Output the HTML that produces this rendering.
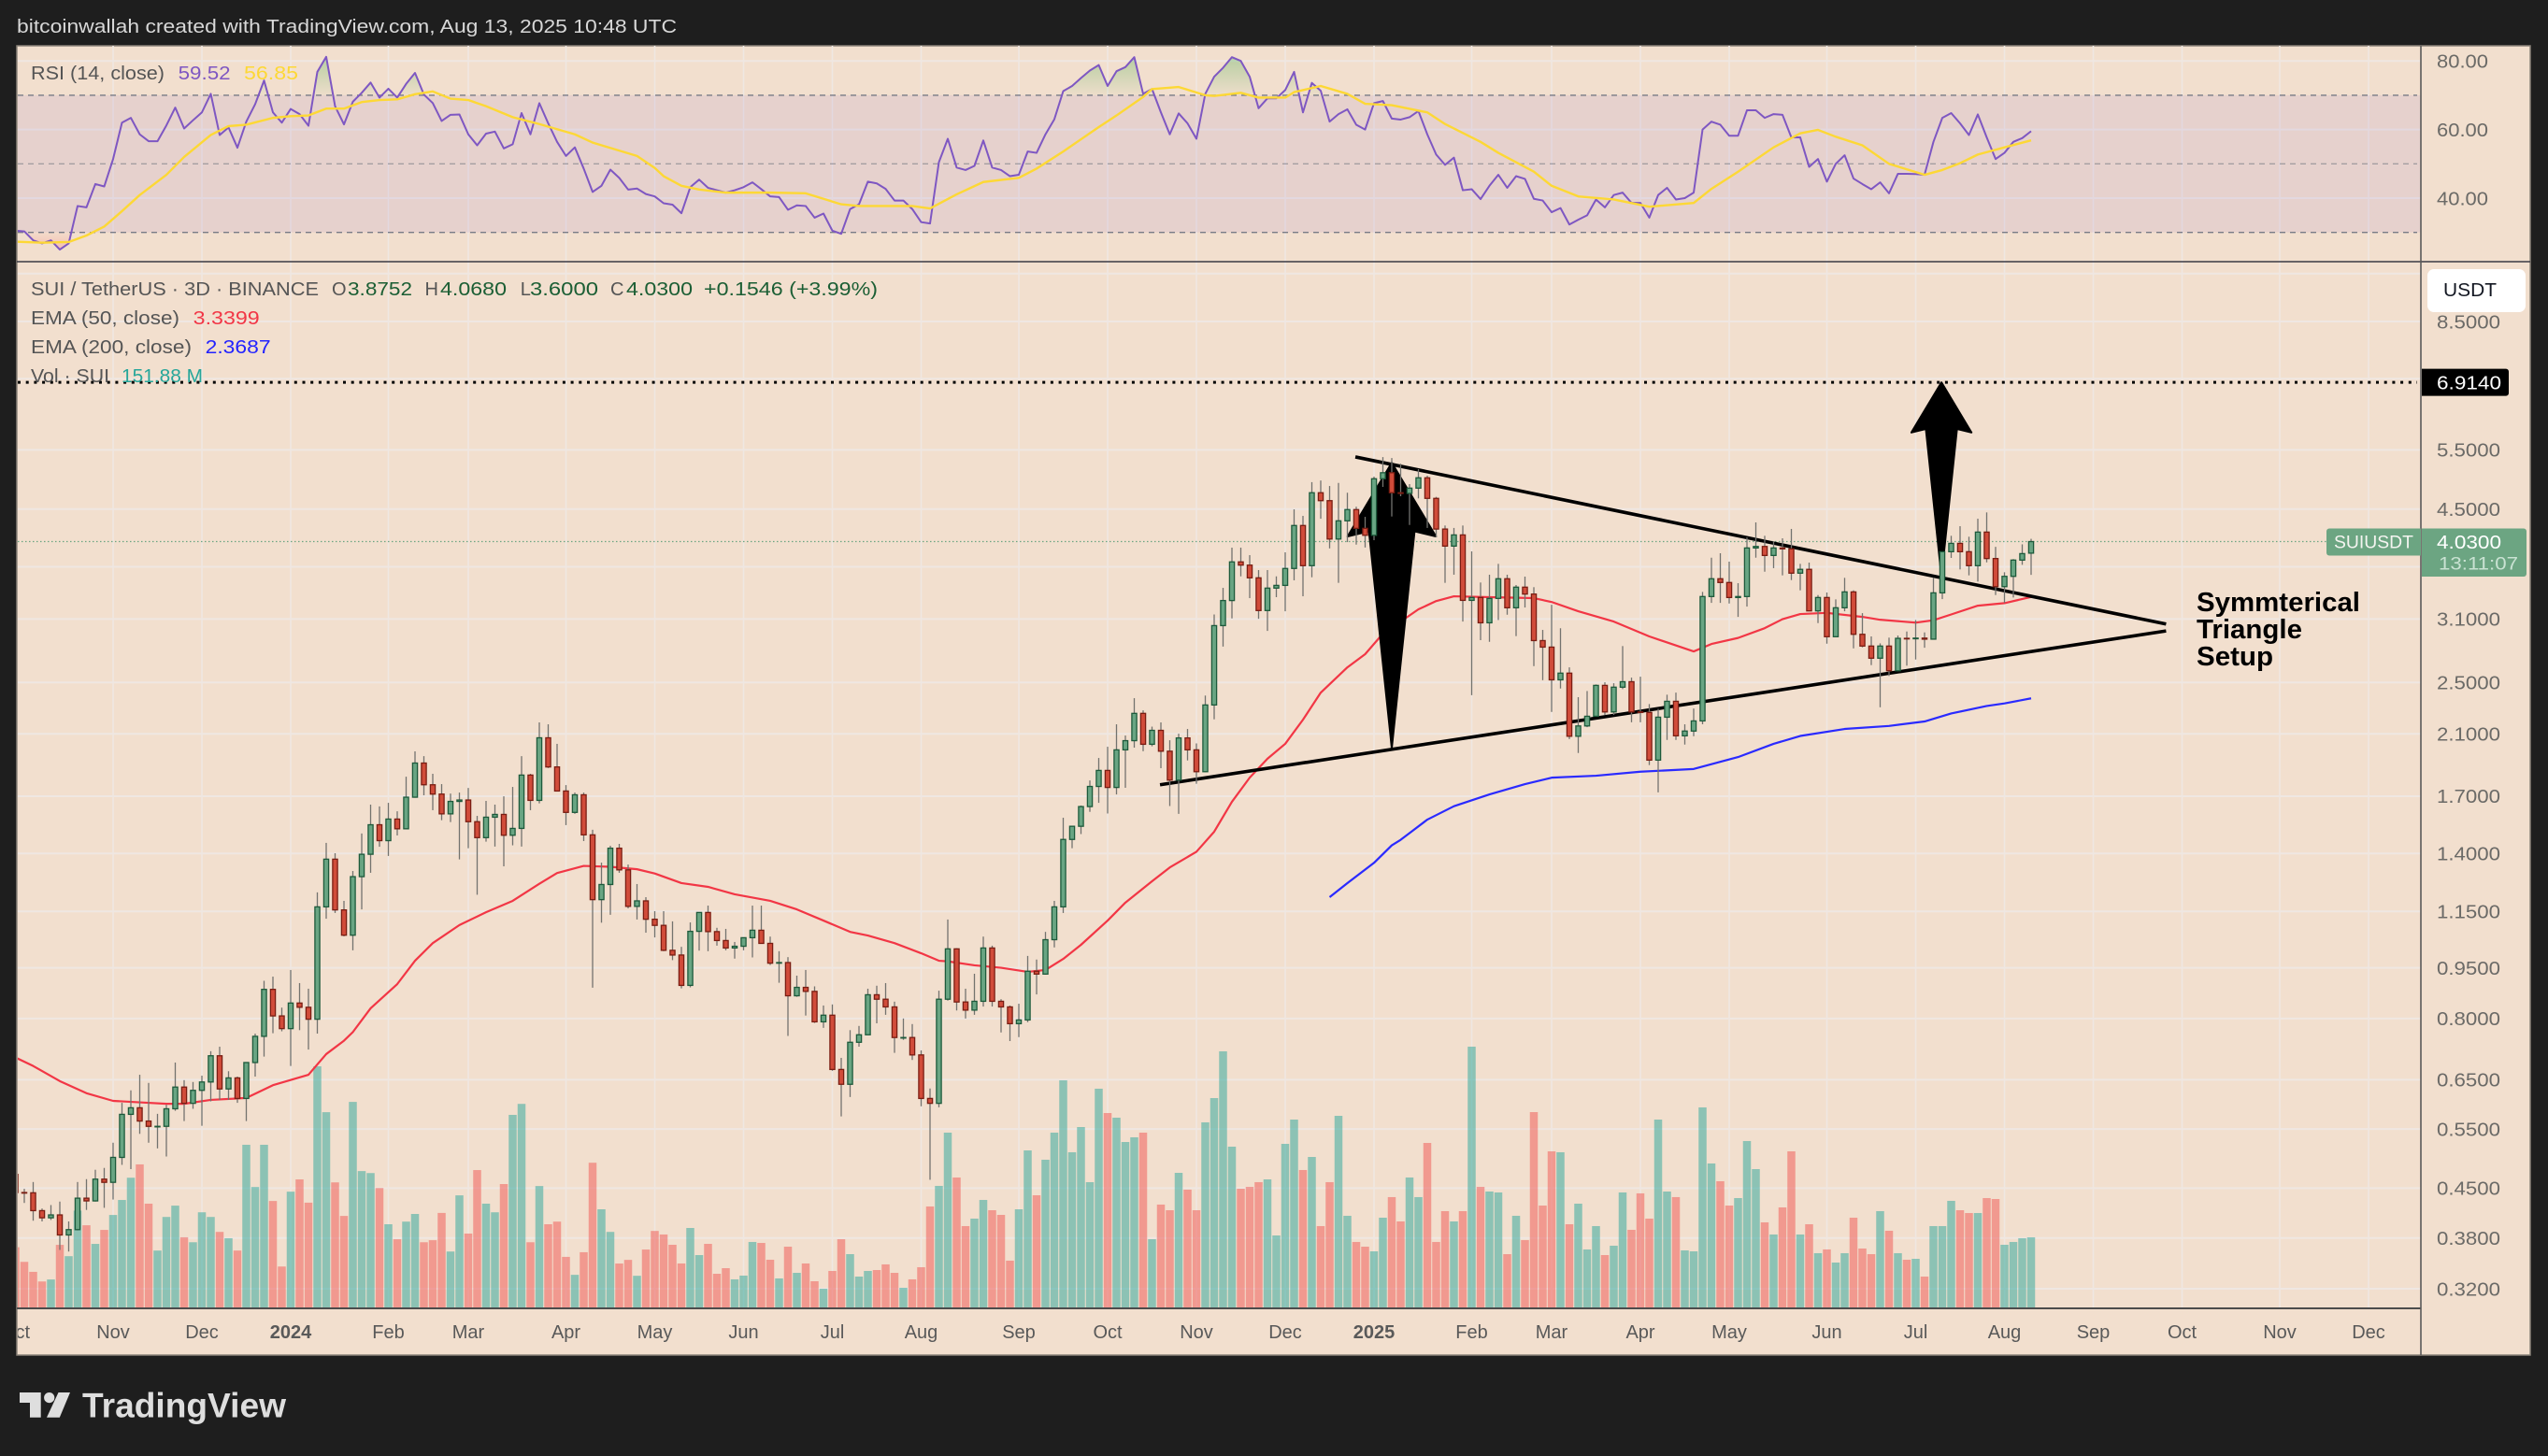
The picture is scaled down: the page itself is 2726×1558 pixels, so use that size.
<!DOCTYPE html>
<html lang="en">
<head>
<meta charset="utf-8">
<title>SUI / TetherUS 3D chart</title>
<style>
html,body{margin:0;padding:0;background:#1e1e1e;width:2726px;height:1558px;overflow:hidden}
svg{display:block}
text{font-family:"Liberation Sans",sans-serif}
</style>
</head>
<body>
<svg id="chart" xmlns="http://www.w3.org/2000/svg" width="2726" height="1558" viewBox="0 0 2726 1558">
  <defs>
    <clipPath id="plot-clip"><rect x="19" y="49" width="2571" height="1351"/></clipPath>
    <clipPath id="axis-clip"><rect x="19" y="1400" width="2571" height="50"/></clipPath>
    <clipPath id="ob-clip"><rect x="19" y="49" width="2571" height="52.9"/></clipPath>
    <clipPath id="os-clip"><rect x="19" y="248.7" width="2571" height="31"/></clipPath>
    <linearGradient id="ob-grad" gradientUnits="userSpaceOnUse" x1="0" y1="58" x2="0" y2="102">
      <stop offset="0" stop-color="#4caf50" stop-opacity=".38"/><stop offset="1" stop-color="#4caf50" stop-opacity=".03"/>
    </linearGradient>
    <linearGradient id="os-grad" gradientUnits="userSpaceOnUse" x1="0" y1="249" x2="0" y2="272">
      <stop offset="0" stop-color="#ff5252" stop-opacity=".03"/><stop offset="1" stop-color="#ff5252" stop-opacity=".3"/>
    </linearGradient>
  </defs>
  <rect x="0" y="0" width="2726" height="1558" fill="#1e1e1e"/>
  <text x="18" y="35" font-size="20" fill="#d8d8d8" textLength="706" lengthAdjust="spacingAndGlyphs">bitcoinwallah created with TradingView.com, Aug 13, 2025 10:48 UTC</text>
  <rect x="18" y="49" width="2689" height="1401" fill="#f2dfce" stroke="#8a8278" stroke-width="1.5"/>
  <g id="grid-layer" clip-path="url(#plot-clip)"></g>
  <rect x="19" y="101.9" width="2571" height="146.8" fill="#7e57c2" fill-opacity=".1"/>
  <g id="rsi-layer" clip-path="url(#plot-clip)"></g>
  <g id="volume-layer" clip-path="url(#plot-clip)"></g>
  <g id="ema-layer" clip-path="url(#plot-clip)"></g>
  <g id="drawing-layer" clip-path="url(#plot-clip)"></g>
  <g id="candle-layer" clip-path="url(#plot-clip)"></g>

  <line x1="18" y1="280" x2="2707" y2="280" stroke="#3a3a44" stroke-width="1.6"/>
  <line x1="18" y1="1400" x2="2590" y2="1400" stroke="#4c4c4c" stroke-width="2"/>
  <line x1="2590" y1="49" x2="2590" y2="1450" stroke="#5a5a5a" stroke-width="1.6"/>

  <g id="price-axis-layer"></g>
  <g id="time-axis-layer" clip-path="url(#axis-clip)"></g>

  <g font-size="20">
    <text x="33" y="85" fill="#555" textLength="143" lengthAdjust="spacingAndGlyphs">RSI (14, close)</text>
    <text x="190.6" y="85" fill="#7e57c2" textLength="56" lengthAdjust="spacingAndGlyphs">59.52</text>
    <text x="261" y="85" fill="#fdd835" textLength="58" lengthAdjust="spacingAndGlyphs">56.85</text>
  </g>
  <g font-size="20">
    <text x="33" y="316" fill="#555" textLength="308" lengthAdjust="spacingAndGlyphs">SUI / TetherUS · 3D · BINANCE</text>
    <text x="355" y="316" fill="#555">O</text>
    <text x="372" y="316" fill="#1b5e34" textLength="69" lengthAdjust="spacingAndGlyphs">3.8752</text>
    <text x="454.5" y="316" fill="#555">H</text>
    <text x="471" y="316" fill="#1b5e34" textLength="71" lengthAdjust="spacingAndGlyphs">4.0680</text>
    <text x="556.7" y="316" fill="#555">L</text>
    <text x="567" y="316" fill="#1b5e34" textLength="73" lengthAdjust="spacingAndGlyphs">3.6000</text>
    <text x="653" y="316" fill="#555">C</text>
    <text x="670" y="316" fill="#1b5e34" textLength="71" lengthAdjust="spacingAndGlyphs">4.0300</text>
    <text x="753" y="316" fill="#1b5e34" textLength="186" lengthAdjust="spacingAndGlyphs">+0.1546 (+3.99%)</text>
    <text x="33" y="347" fill="#555" textLength="159" lengthAdjust="spacingAndGlyphs">EMA (50, close)</text>
    <text x="206.7" y="347" fill="#f23645" textLength="71" lengthAdjust="spacingAndGlyphs">3.3399</text>
    <text x="33" y="378" fill="#555" textLength="172" lengthAdjust="spacingAndGlyphs">EMA (200, close)</text>
    <text x="219.6" y="378" fill="#2323ff" textLength="70" lengthAdjust="spacingAndGlyphs">2.3687</text>
    <text x="33" y="409" fill="#555" textLength="84" lengthAdjust="spacingAndGlyphs">Vol · SUI</text>
    <text x="130" y="409" fill="#26a69a" textLength="87" lengthAdjust="spacingAndGlyphs">151.88 M</text>
  </g>

  <g font-size="29" font-weight="700" fill="#000">
    <text x="2350" y="654" textLength="175" lengthAdjust="spacingAndGlyphs">Symmterical</text>
    <text x="2350" y="683" textLength="113" lengthAdjust="spacingAndGlyphs">Triangle</text>
    <text x="2350" y="712" textLength="82" lengthAdjust="spacingAndGlyphs">Setup</text>
  </g>

  <g id="tag-layer"></g>

  <g>
    <rect x="2597" y="288" width="105" height="46" rx="7" fill="#ffffff"/>
    <text x="2614" y="317" font-size="20" fill="#131722" textLength="57" lengthAdjust="spacingAndGlyphs">USDT</text>
  </g>

  <g fill="#dedede">
    <path d="M21 1490H43.7V1516.7H32V1501H21Z"/>
    <circle cx="52.7" cy="1495.6" r="5.6"/>
    <path d="M62.5 1490H75L63.8 1516.7H50Z"/>
    <text x="88" y="1516.5" font-size="37" font-weight="700" textLength="218" lengthAdjust="spacingAndGlyphs">TradingView</text>
  </g>
</svg>
<script>
// ---------- Chart data ----------
const lastPrice = 4.03;
const targetPrice = 6.914;

const opens = [
.4715,.4434,.443,.417,.407,.411,.384,.391,.435,.431,
.464,.459,.4995,.578,.591,.565,.555,.555,.589,.634,
.600,.627,.645,.705,.630,.654,.610,.689,.753,.883,
.807,.773,.843,.831,.798,1.168,1.373,1.156,1.061,1.294,
1.396,1.543,1.462,1.573,1.522,1.694,1.902,1.767,1.712,1.601,
1.670,1.678,1.559,1.477,1.583,1.598,1.489,1.524,1.826,1.676,
2.072,1.877,1.730,1.609,1.708,1.491,1.197,1.260,1.425,1.324,
1.170,1.192,1.120,1.097,1.008,.992,.895,1.075,1.146,1.074,
1.042,1.016,1.022,1.052,1.079,1.032,.965,.967,.864,.889,
.877,.791,.809,.673,.640,.738,.757,.867,.854,.832,
.750,.750,.707,.610,.600,.854,1.013,.846,.823,.848,
1.016,.848,.832,.786,.796,.939,.930,1.045,1.168,1.468,
1.535,1.641,1.757,1.855,1.751,1.989,2.052,2.251,2.027,2.125,
1.980,1.795,2.071,1.989,1.847,2.316,3.031,3.300,3.762,3.721,
3.564,3.190,3.442,3.474,3.679,4.256,3.714,4.756,4.630,4.065,
4.324,4.492,4.215,4.117,4.987,5.090,4.756,4.745,4.831,5.003,
4.666,4.205,3.969,4.122,3.302,3.334,3.060,3.324,3.553,3.220,
3.453,3.373,2.881,2.818,2.522,2.580,2.083,2.157,2.229,2.475,
2.262,2.460,2.506,2.262,2.258,1.921,2.222,2.345,2.086,2.120,
2.194,3.345,3.553,3.508,3.334,3.345,3.944,3.964,3.845,3.944,
3.932,3.621,3.668,3.186,3.334,2.919,3.220,3.398,2.943,2.828,
2.714,2.828,2.601,2.903,2.899,2.905,2.895,3.387,3.894,4.006,
3.894,3.714,4.162,3.805,3.459,3.582,3.785,3.8752];

const closes = [
.4434,.443,.417,.407,.411,.384,.391,.435,.431,.464,
.459,.4995,.578,.591,.565,.555,.555,.589,.634,.600,
.627,.645,.705,.630,.654,.610,.689,.753,.883,.807,
.773,.843,.831,.798,1.168,1.373,1.156,1.061,1.294,1.396,
1.543,1.462,1.573,1.522,1.694,1.902,1.767,1.712,1.601,1.670,
1.678,1.559,1.477,1.583,1.598,1.489,1.524,1.826,1.676,2.072,
1.877,1.730,1.609,1.708,1.491,1.197,1.260,1.425,1.324,1.170,
1.192,1.120,1.097,1.008,.992,.895,1.075,1.146,1.074,1.042,
1.016,1.022,1.052,1.079,1.032,.965,.967,.864,.889,.877,
.791,.809,.673,.640,.738,.757,.867,.854,.832,.750,
.750,.707,.610,.600,.854,1.013,.846,.823,.848,1.016,
.848,.832,.786,.796,.939,.930,1.045,1.168,1.468,1.535,
1.641,1.757,1.855,1.751,1.989,2.052,2.251,2.027,2.125,1.980,
1.795,2.071,1.989,1.847,2.316,3.031,3.300,3.762,3.721,3.564,
3.190,3.442,3.474,3.679,4.256,3.714,4.756,4.630,4.065,4.324,
4.492,4.215,4.117,4.987,5.090,4.756,4.745,4.831,5.003,4.666,
4.205,3.969,4.122,3.302,3.334,3.060,3.324,3.553,3.220,3.453,
3.373,2.881,2.818,2.522,2.580,2.083,2.157,2.229,2.475,2.262,
2.460,2.506,2.262,2.258,1.921,2.222,2.345,2.086,2.120,2.194,
3.345,3.553,3.508,3.334,3.345,3.944,3.964,3.845,3.944,3.932,
3.621,3.668,3.186,3.334,2.919,3.220,3.398,2.943,2.828,2.714,
2.828,2.601,2.903,2.899,2.905,2.895,3.387,3.894,4.006,3.894,
3.714,4.162,3.805,3.459,3.582,3.785,3.869,4.03];

const highs = [
.475,.449,.4595,.420,.425,.430,.402,.4595,.464,.479,
.482,.525,.601,.627,.661,.643,.579,.597,.689,.649,
.645,.659,.716,.727,.669,.657,.689,.760,.909,.922,
.830,.943,.902,.885,1.227,1.451,1.401,1.192,1.319,1.498,
1.652,1.642,1.662,1.615,1.816,1.979,1.947,1.834,1.771,1.715,
1.721,1.748,1.590,1.673,1.652,1.699,1.754,1.947,1.834,2.183,
2.169,2.030,1.765,1.721,1.721,1.517,1.357,1.437,1.446,1.348,
1.262,1.207,1.151,1.151,1.112,1.020,1.108,1.147,1.173,1.088,
1.084,1.037,1.053,1.173,1.173,1.056,1.005,.985,.925,.943,
.892,.836,.839,.700,.769,.780,.885,.894,.902,.847,
.800,.785,.718,.631,.879,1.119,1.015,.885,.931,1.056,
1.024,.854,.836,.841,.989,.977,1.073,1.192,1.580,1.537,
1.647,1.793,1.935,2.010,2.169,2.088,2.370,2.274,2.152,2.183,
2.055,2.101,2.135,2.033,2.391,3.148,3.445,3.948,3.948,3.849,
3.659,3.659,3.582,3.886,4.496,4.397,4.930,4.957,4.866,4.917,
4.756,4.536,4.383,5.023,5.367,5.35,5.248,4.897,5.153,5.039,
4.690,4.256,4.221,4.256,3.898,3.508,3.602,3.737,3.602,3.478,
3.579,3.453,2.987,3.253,3.004,2.631,2.378,2.428,2.483,2.501,
2.493,2.828,2.541,2.549,2.323,2.286,2.398,2.415,2.169,2.288,
3.398,3.816,3.874,3.765,3.500,4.088,4.301,4.110,4.036,4.075,
4.207,3.737,3.753,3.362,3.391,3.313,3.564,3.416,3.162,2.922,
2.854,2.910,2.931,2.971,3.089,2.962,3.564,3.898,4.110,4.246,
4.097,4.355,4.449,3.959,3.632,3.798,3.993,4.068];

const lows = [
.4434,.428,.403,.402,.404,.365,.363,.390,.418,.430,
.421,.433,.487,.480,.541,.525,.515,.501,.585,.565,
.589,.556,.604,.607,.607,.601,.565,.657,.703,.761,
.766,.681,.769,.720,.760,1.122,1.144,1.057,1.008,1.158,
1.311,1.432,1.388,1.488,1.521,1.691,1.705,1.621,1.567,1.557,
1.372,1.425,1.217,1.457,1.433,1.340,1.439,1.433,1.621,1.659,
1.870,1.730,1.541,1.601,1.460,.888,1.107,1.137,1.311,1.162,
1.119,1.070,1.053,1.005,.975,.886,.889,1.007,1.005,1.024,
1.008,.980,1.008,.984,1.031,.959,.903,.754,.861,.808,
.788,.775,.670,.574,.613,.727,.757,.787,.810,.712,
.744,.695,.594,.463,.592,.850,.822,.800,.810,.833,
.833,.763,.741,.751,.790,.868,.928,1.018,1.144,1.425,
1.495,1.612,1.662,1.603,1.710,1.749,2.004,1.980,2.013,1.869,
1.644,1.601,1.919,1.773,1.844,2.206,2.823,3.106,3.582,3.327,
3.102,2.977,3.338,3.182,3.534,3.348,3.571,4.355,3.938,3.504,
4.023,3.989,3.950,4.049,4.851,4.388,4.700,4.264,4.666,4.221,
4.088,3.504,3.602,3.073,2.394,2.885,2.869,3.089,3.145,2.925,
3.223,2.642,2.519,2.262,2.449,2.063,1.968,2.148,2.227,2.239,
2.239,2.444,2.184,2.184,1.889,1.722,2.057,2.057,2.025,2.083,
2.169,3.274,3.274,3.267,3.122,3.233,3.816,3.639,3.683,3.594,
3.537,3.416,3.182,3.057,2.851,2.915,3.182,2.806,2.816,2.651,
2.298,2.555,2.596,2.646,2.702,2.812,2.89,3.316,3.813,3.667,
3.594,3.519,3.756,3.362,3.274,3.334,3.725,3.6];

const volumes = [
130.4,98.7,77.1,56.2,60.5,135.5,111,209.7,178,137.6,
167.9,200.3,232.8,281,309.9,224.8,123.2,196,220.5,152,
141.2,206.1,196,163.6,149.9,123.2,352.4,260.9,352.4,230.6,
88.6,250.8,277.4,227,522.4,423,270.9,198.2,445.3,295.4,
291.1,258.7,180.2,147.7,185.9,202.5,141.2,145.6,204.7,121.1,
242.8,160,297.6,224.8,206.1,267.3,417.2,441,141.2,263,
180.2,185.9,109.5,70.6,119.6,313.5,212.6,163.6,95.1,103,
68.5,125.4,165.7,158,135.7,95.2,172.1,113.4,137.7,72.9,
85,60.8,68.9,141.8,139.7,103.3,62.8,131.6,74.9,95.2,
56.7,40.5,79,147.8,115.4,66.8,79,81,93.2,74.9,
42.5,60.8,87.1,218.7,263.3,378.7,281.5,176.2,192.4,232.9,
210.6,200.5,101.3,212.6,340.2,243,320,378.7,492.1,336.2,
390.8,271.4,473.9,421.2,411.1,358.4,368.6,378.7,147.8,222.8,
210.6,291.6,255.2,210.6,401,453.6,554.9,348.3,257.2,261.2,
271.4,277.4,155.9,354.4,407,297.7,326,176.2,271.4,415.1,
198.5,141.8,131.6,121.5,194.4,239,186.3,281.5,239,356.4,
141.8,208.6,186.3,208.6,565,261.2,251.1,249.1,115.4,198.5,
145.8,423.2,220.7,338.2,336.2,180.2,224.8,125.6,176.2,113.4,
133.7,249.1,168.1,247.1,192.4,407,251.1,239,123.5,121.5,
433.4,311.9,273.4,220.7,236.9,360.5,299.7,184.3,158,216.7,
338.2,158,180.2,117.5,125.6,97.2,117.5,194.4,127.6,115.4,
208.6,166.1,117.5,103.3,105.3,66.8,176.2,176.2,230.9,210.6,
204.5,204.5,236.9,234.9,135.7,141.8,149.9,151.88];

const rsiValues = [
30.5,30.3,27.7,26.8,27.7,25,26.8,37.7,37.3,44.1,
43.4,51.4,62,63.4,58.6,56.6,56.6,61.2,66.4,60.3,
62.7,65,70.4,58.4,60.6,54.7,62.3,67.4,74.3,65,
62,66,64.5,61.1,76.8,81.2,66.8,61.5,68.1,70.7,
73.7,69.3,71.9,69.3,73.3,76.5,70.2,67.7,62.5,64.3,
64.4,58.6,55.4,58.8,59.4,54.5,55.7,64.8,58.6,67.7,
61.8,56.4,52.3,54.8,48.6,41.8,43.6,48.3,45.9,42.5,
42.8,41.2,40.5,38.5,38.1,35.6,43.2,45.4,43,42.3,
41.6,42.3,43.2,44.6,42.6,40.5,40.3,36.6,37.9,37.7,
34.3,35.5,30.5,29.6,36.8,38.2,44.8,44.3,42.7,39.3,
39.3,36.8,33,32.6,50.5,57.3,48.9,48.2,49.4,56.8,
48.9,48.2,46.4,46.8,53.6,53.2,58.6,63,71.2,72.7,
75,77.2,78.8,72.7,77,78.2,81.1,70.4,71.8,65,
58.6,64.7,61.8,57.3,70.4,75.4,78,81.1,80,75.4,
66.2,69.1,69.1,71.5,76.8,65,73.6,71.3,62.3,64.5,
65.9,61.4,60,67.7,68.3,63.2,62.9,63.6,65.4,58.6,
52.7,49.7,51.8,42.3,42.6,39.7,43.6,46.8,43,46.4,
45.6,39.8,39.3,35.9,37.1,32.3,33.7,35,39.6,37.3,
40.9,41.6,38.6,38.6,34.3,40.9,43,39.6,40,41.6,
60,62.3,61.4,58.2,58.2,65.6,65.6,63.4,64.5,64.3,
57.7,57.7,49.1,51.4,44.8,50,52.5,45.7,44.1,42.6,
44.6,41.4,47.1,47.1,47,46.8,56.4,63.4,64.8,61.8,
58.4,64.4,57.7,51.4,53.2,56.4,57.5,59.52];

const rsiMaBars = [0,3,6,8,10,12,14,17,19,22,24,26,29,31,33,35,37,39,41,43,45,47,49,51,53,56,59,63,65,70,72,73,75,77,80,85,89,93,95,101,103,106,109,113,115,118,122,124,127,128,131,134,135,138,140,143,144,147,150,152,155,159,161,165,167,171,173,176,180,184,189,191,194,198,201,203,205,208,211,215,217,219,221,224,227];
const rsiMaValues = [27.3,27,27.2,29.1,31.7,36.2,40.9,46.8,52,58.4,61,61.4,63.4,63.9,64.1,66.1,66.1,68,68.6,68.8,70.3,71.1,69,68.6,66.8,63.6,61.6,58.6,56.2,52.3,48.8,46.4,43.6,42.5,41.6,41.6,41.4,38.2,37.7,37.7,37,41.1,44.7,45.9,48.6,53.6,60.7,64.1,69.5,71.8,72.4,70,69.8,70.7,69.3,69.3,70.9,72.7,70.4,67.5,67.1,65,61.6,56.4,53.2,47.7,43.6,40.5,39.6,37.5,38.6,42.7,47.7,54.8,58.9,59.9,57.9,55.4,50,46.8,48.2,50.2,52.7,54.8,56.85];

const ema50Bars = [0,2,5,8,11,14,17,19,22,26,29,33,35,37,38,40,43,45,47,50,53,56,59,61,64,67,70,72,75,78,81,85,88,91,94,96,99,102,104,105,108,111,114,116,118,120,123,125,128,130,133,135,137,139,141,143,145,147,150,152,154,156,158,160,162,166,171,173,176,180,184,189,191,194,197,199,201,204,208,210,214,216,218,221,224,227];
const ema50Values = [.701,.681,.647,.621,.605,.602,.599,.599,.607,.611,.638,.661,.709,.742,.764,.828,.899,.973,1.033,1.098,1.147,1.192,1.263,1.310,1.342,1.338,1.327,1.308,1.266,1.250,1.219,1.192,1.158,1.115,1.073,1.060,1.033,.998,.973,.971,.958,.950,.937,.943,.979,1.027,1.115,1.185,1.274,1.335,1.408,1.507,1.668,1.810,1.930,2.030,2.203,2.415,2.631,2.751,2.950,3.073,3.203,3.294,3.348,3.338,3.327,3.284,3.182,3.073,2.922,2.777,2.848,2.907,3.005,3.098,3.152,3.165,3.122,3.092,3.062,3.087,3.148,3.243,3.271,3.3399];

const ema200Bars = [148,150,153,155,156,159,162,166,170,173,178,183,189,194,198,201,206,211,215,218,222,224,227];
const ema200Values = [1.207,1.266,1.356,1.439,1.466,1.570,1.643,1.710,1.771,1.810,1.822,1.847,1.864,1.941,2.030,2.085,2.135,2.157,2.190,2.250,2.308,2.328,2.3687];

const gridPrices = [10,8.5,7,5.5,4.5,3.7,3.1,2.5,2.1,1.7,1.4,1.15,.95,.8,.65,.55,.45,.38,.32];
const priceTickValues = [8.5,5.5,4.5,3.1,2.5,2.1,1.7,1.4,1.15,.95,.8,.65,.55,.45,.38,.32];
const priceTickLabels = ["8.5000","5.5000","4.5000","3.1000","2.5000","2.1000","1.7000","1.4000","1.1500","0.9500","0.8000","0.6500","0.5500","0.4500","0.3800","0.3200"];
const rsiTickValues = [80,60,40];
const rsiTickLabels = ["80.00","60.00","40.00"];
const timeTickBars = [0,11,21,31,42,51,62,72,82,92,102,113,123,133,143,153,164,173,183,193,204,214,224,234,244,255,265];
const timeTickLabels = ["Oct","Nov","Dec","2024","Feb","Mar","Apr","May","Jun","Jul","Aug","Sep","Oct","Nov","Dec","2025","Feb","Mar","Apr","May","Jun","Jul","Aug","Sep","Oct","Nov","Dec"];

const upperTrendBars = [150.9,242.2];
const upperTrendPrices = [5.37,3.047];
const lowerTrendBars = [128.9,242.2];
const lowerTrendPrices = [1.767,2.977];
const arrowBars = [155,216.9];
const arrowTipPrices = [5.265,6.914];
const arrowBasePrices = [2.0,3.58];

// ---------- Axis functions ----------
const SVGNS = "http://www.w3.org/2000/svg";
function xAt(bar){ return 16.5 + 9.5 * bar; }
function yPrice(p){ return 344 + 315.6 * Math.log(8.5 / p); }
function yRsi(v){ return 175.3 - (v - 50) * 3.67; }
function yVol(v){ return 1399 - v / 2.025; }

function add(parent, tag, attrs){
  const el = document.createElementNS(SVGNS, tag);
  for (const k in attrs) el.setAttribute(k, attrs[k]);
  parent.appendChild(el);
  return el;
}
function linePath(bars, vals, yFn){
  return bars.map((b, i) => (i ? "L" : "M") + xAt(b).toFixed(2) + " " + yFn(vals[i]).toFixed(2)).join("");
}

const gridLayer = document.getElementById("grid-layer");
const rsiLayer = document.getElementById("rsi-layer");
const volumeLayer = document.getElementById("volume-layer");
const emaLayer = document.getElementById("ema-layer");
const drawingLayer = document.getElementById("drawing-layer");
const candleLayer = document.getElementById("candle-layer");
const priceAxisLayer = document.getElementById("price-axis-layer");
const timeAxisLayer = document.getElementById("time-axis-layer");
const tagLayer = document.getElementById("tag-layer");

// ---------- Grid ----------
timeTickBars.forEach(b => {
  const v = add(gridLayer, "line", {x1: xAt(b), x2: xAt(b), y1: 49, y2: 1400, stroke: "#efe7e2", "stroke-width": 1.6});
  
  
});
gridPrices.forEach(p => {
  if (yPrice(p) < 281) return;
  const h = add(gridLayer, "line", {x1: 19, x2: 2590, y1: yPrice(p), y2: yPrice(p), stroke: "#efe7e2", "stroke-width": 2});
  
  
});
rsiTickValues.forEach(v => {
  const h = add(gridLayer, "line", {x1: 19, x2: 2590, y1: yRsi(v), y2: yRsi(v), stroke: "#efe7e2", "stroke-width": 2});
  
  
});

// ---------- RSI pane ----------
[[70,"#787b86",1],[50,"#787b86",.6],[30,"#787b86",1]].forEach(level => {
  const h = add(rsiLayer, "line", {x1: 19, x2: 2586, y1: yRsi(level[0]), y2: yRsi(level[0]), stroke: level[1], "stroke-opacity": level[2], "stroke-width": 1.4, "stroke-dasharray": "6 5"});
  
  
});
const rsiBars = rsiValues.map((_, i) => i);
const rsiLinePath = linePath(rsiBars, rsiValues, yRsi);
const closeArea = function(level){
  return rsiLinePath + "L" + xAt(rsiBars[rsiBars.length - 1]) + " " + yRsi(level) + "L" + xAt(0) + " " + yRsi(level) + "Z";
};
const obFill = add(rsiLayer, "path", {d: closeArea(70), fill: "url(#ob-grad)", "clip-path": "url(#ob-clip)"});


const osFill = add(rsiLayer, "path", {d: closeArea(30), fill: "url(#os-grad)", "clip-path": "url(#os-clip)"});


const rsiLine = add(rsiLayer, "path", {d: rsiLinePath, fill: "none", stroke: "#7e57c2", "stroke-width": 2, "stroke-linejoin": "round"});


const rsiMaLine = add(rsiLayer, "path", {d: linePath(rsiMaBars, rsiMaValues, yRsi), fill: "none", stroke: "#fdd835", "stroke-width": 2.4, "stroke-linejoin": "round"});



// ---------- Volume ----------
volumes.forEach((v, i) => {
  const up = closes[i] >= opens[i];
  const bar = add(volumeLayer, "rect", {x: xAt(i) - 4.25, y: yVol(v), width: 8.5, height: 1399 - yVol(v), fill: up ? "#26a69a" : "#ef5350", "fill-opacity": .5});
  
  
});

// ---------- EMAs ----------
const ema50Line = add(emaLayer, "path", {d: linePath(ema50Bars, ema50Values, yPrice), fill: "none", stroke: "#f23645", "stroke-width": 2.2, "stroke-linejoin": "round"});


const ema200Line = add(emaLayer, "path", {d: linePath(ema200Bars, ema200Values, yPrice), fill: "none", stroke: "#2a2aff", "stroke-width": 2.2, "stroke-linejoin": "round"});



// ---------- Drawings ----------
const priceLine = add(drawingLayer, "line", {x1: 19, x2: 2489, y1: yPrice(lastPrice), y2: yPrice(lastPrice), stroke: "#6ca582", "stroke-width": 1.2, "stroke-dasharray": "1.5 2.5"});


const targetLine = add(drawingLayer, "line", {x1: 19, x2: 2586, y1: yPrice(targetPrice), y2: yPrice(targetPrice), stroke: "#000", "stroke-width": 3, "stroke-dasharray": "3 5.7"});


const upperTrend = add(drawingLayer, "line", {x1: xAt(upperTrendBars[0]), y1: yPrice(upperTrendPrices[0]), x2: xAt(upperTrendBars[1]), y2: yPrice(upperTrendPrices[1]), stroke: "#000", "stroke-width": 3.6});


const lowerTrend = add(drawingLayer, "line", {x1: xAt(lowerTrendBars[0]), y1: yPrice(lowerTrendPrices[0]), x2: xAt(lowerTrendBars[1]), y2: yPrice(lowerTrendPrices[1]), stroke: "#000", "stroke-width": 3.6});


arrowBars.forEach((b, i) => {
  const cx = xAt(b);
  const tip = yPrice(arrowTipPrices[i]);
  const base = yPrice(arrowBasePrices[i]);
  const len = base - tip;
  const pts = [
    [cx, tip],
    [cx + len * .155, tip + len * .258],
    [cx + len * .08, tip + len * .24],
    [cx, base],
    [cx - len * .08, tip + len * .24],
    [cx - len * .155, tip + len * .258]
  ].map(p => p[0].toFixed(1) + "," + p[1].toFixed(1)).join(" ");
  const arrow = add(drawingLayer, "polygon", {points: pts, fill: "#000", stroke: "#000", "stroke-width": 2, "stroke-linejoin": "round"});
  
  
});

// ---------- Candles ----------
closes.forEach((c, i) => {
  const o = opens[i], up = c >= o, x = xAt(i);
  const wick = add(candleLayer, "line", {x1: x, x2: x, y1: yPrice(highs[i]), y2: yPrice(lows[i]), stroke: "#73736e", "stroke-width": 1.3});
  
  
  const top = yPrice(Math.max(o, c)), bottom = yPrice(Math.min(o, c));
  const body = add(candleLayer, "rect", {x: x - 2.6, y: top, width: 5.2, height: Math.max(bottom - top, .6), fill: up ? "#69a583" : "#d14c3a", stroke: up ? "#1d5a3b" : "#7a1d12", "stroke-width": 1.3});
  
  
});

// ---------- Price axis ----------
priceTickValues.forEach((p, i) => {
  const t = add(priceAxisLayer, "text", {x: 2607, y: yPrice(p) + 7.3, "font-size": 20, fill: "#6b6a67", textLength: 68, lengthAdjust: "spacingAndGlyphs"});
  t.textContent = priceTickLabels[i];
  
  
});
rsiTickValues.forEach((v, i) => {
  const t = add(priceAxisLayer, "text", {x: 2607, y: yRsi(v) + 7.3, "font-size": 20, fill: "#6b6a67", textLength: 55, lengthAdjust: "spacingAndGlyphs"});
  t.textContent = rsiTickLabels[i];
  
  
});

// ---------- Time axis ----------
timeTickBars.forEach((b, i) => {
  const label = timeTickLabels[i];
  const isYear = /^\d+$/.test(label);
  const t = add(timeAxisLayer, "text", {x: xAt(b), y: 1432, "font-size": 20, "text-anchor": "middle", fill: "#595959", "font-weight": isYear ? 700 : 400});
  t.textContent = label;
  
  
});

// ---------- Price tags ----------
const targetTagY = yPrice(targetPrice);
const targetTag = add(tagLayer, "path", {d: "M2591 " + (targetTagY - 14.5) + "H2681a3 3 0 0 1 3 3V" + (targetTagY + 11.5) + "a3 3 0 0 1 -3 3H2591Z", fill: "#000"});


const targetText = add(tagLayer, "text", {x: 2607, y: targetTagY + 7.3, "font-size": 20, fill: "#fff", textLength: 69, lengthAdjust: "spacingAndGlyphs"});
targetText.textContent = targetPrice.toFixed(4);



const lastY = yPrice(lastPrice);
const symbolTag = add(tagLayer, "path", {d: "M2590 " + (lastY - 14) + "H2492a3 3 0 0 0 -3 3V" + (lastY + 12) + "a3 3 0 0 0 3 3H2590Z", fill: "#6ca582"});


const symbolText = add(tagLayer, "text", {x: 2497, y: lastY + 7, "font-size": 19, fill: "#f4f4f0", textLength: 85, lengthAdjust: "spacingAndGlyphs"});
symbolText.textContent = "SUIUSDT";


const lastTag = add(tagLayer, "path", {d: "M2591 " + (lastY - 14) + "H2700a3 3 0 0 1 3 3V" + (lastY + 34.5) + "a3 3 0 0 1 -3 3H2591Z", fill: "#6ca582"});


const lastText = add(tagLayer, "text", {x: 2607, y: lastY + 7.3, "font-size": 20, fill: "#fff", textLength: 69, lengthAdjust: "spacingAndGlyphs"});
lastText.textContent = lastPrice.toFixed(4);


const countdownText = add(tagLayer, "text", {x: 2609, y: lastY + 30, "font-size": 19, fill: "#c9e2d2", textLength: 85, lengthAdjust: "spacingAndGlyphs"});
countdownText.textContent = "13:11:07";


</script>
</body>
</html>
